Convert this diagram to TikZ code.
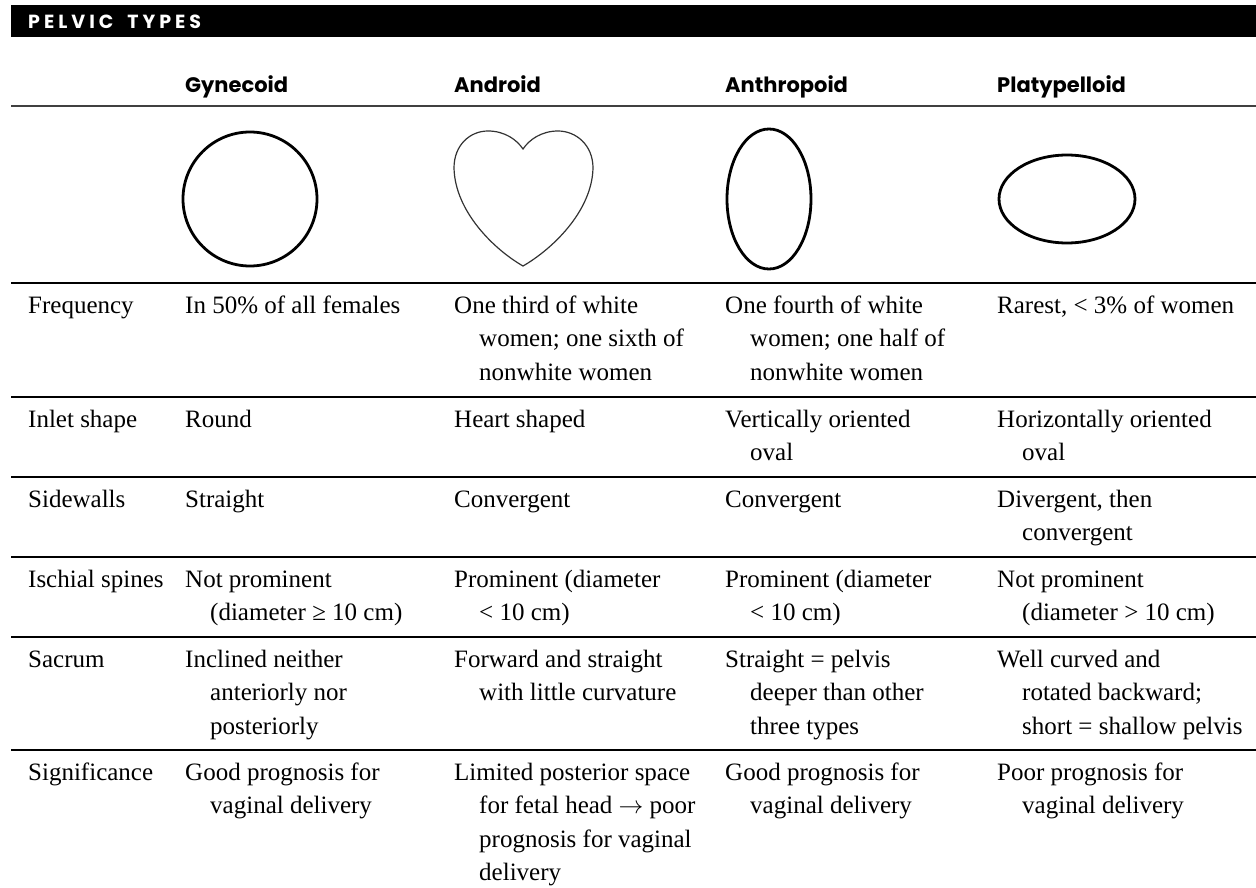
\documentclass[tikz,border=0pt]{standalone}
\usepackage{fontspec}
\setmainfont{Liberation Serif}
\newfontfamily\hdfont{Poppins}
\newcommand\st{\rule{0pt}{24bp}}
\newcommand\ind{\hspace*{25bp}}
\tikzset{
  cell/.style={anchor=north west, inner sep=0pt, align=left, text=black,
    font=\fontsize{25bp}{33.5bp}\selectfont},
  hd/.style={anchor=base west, inner sep=0pt, text=black,
    font=\hdfont\bfseries\fontsize{21bp}{25bp}\selectfont},
  rowrule/.style={line width=2bp, draw=black},
  thickshape/.style={line width=2.8bp, draw=black},
  thinshape/.style={line width=1.2bp, draw=black!80}
}
\begin{document}
\begin{tikzpicture}[x=1bp,y=-1bp]
\useasboundingbox (0,0) rectangle (1256,888);
% title bar
\fill[black] (11,5) rectangle (1256,37);
\node[anchor=base west, inner sep=0pt, text=white,
  font=\hdfont\bfseries\fontsize{19bp}{20bp}\selectfont] (title) at (28,28)
  {P\kern4bp E\kern4bp L\kern4bp V\kern4bp I\kern4bp C\kern14bp T\kern4bp Y\kern4bp P\kern4bp E\kern4bp S};
% headers
\node[hd] (h2) at (185,92) {Gynecoid};
\node[hd] (h3) at (454,92) {Android};
\node[hd] (h4) at (725,92) {Anthropoid};
\node[hd] (h5) at (997,92) {Platypelloid};
\draw[line width=2.5bp, draw=black!75] (11,106) -- (1256,106);
% shapes
\draw[thickshape] (250,199) circle [radius=67];
\draw[thinshape] (523,266) .. controls (495,250) and (455,212) .. (454,168)
  .. controls (454,145) and (470,131) .. (488,131)
  .. controls (505,131) and (517,140) .. (523,149)
  .. controls (529,140) and (541,131) .. (558,131)
  .. controls (576,131) and (593,145) .. (593,168)
  .. controls (592,212) and (551,250) .. (523,266) -- cycle;
\draw[thickshape] (769,199) ellipse [x radius=42, y radius=70];
\draw[thickshape] (1067,199) ellipse [x radius=68, y radius=44];
% rules
\foreach \yy in {283,397,477,557,637,750}
  \draw[rowrule] (11,\yy) -- (1256,\yy);
% Frequency row
\node[cell] (r1c1) at (28,289) {\st Frequency};
\node[cell] (r1c2) at (185,289) {\st In 50\% of all females};
\node[cell] (r1c3) at (454,289) {\st One third of white\\\ind women; one sixth of\\\ind nonwhite women};
\node[cell] (r1c4) at (725,289) {\st One fourth of white\\\ind women; one half of\\\ind nonwhite women};
\node[cell] (r1c5) at (997,289) {\st Rarest, < 3\% of women};
% Inlet shape
\node[cell] (r2c1) at (28,403) {\st Inlet shape};
\node[cell] (r2c2) at (185,403) {\st Round};
\node[cell] (r2c3) at (454,403) {\st Heart shaped};
\node[cell] (r2c4) at (725,403) {\st Vertically oriented\\\ind oval};
\node[cell] (r2c5) at (997,403) {\st Horizontally oriented\\\ind oval};
% Sidewalls
\node[cell] (r3c1) at (28,483) {\st Sidewalls};
\node[cell] (r3c2) at (185,483) {\st Straight};
\node[cell] (r3c3) at (454,483) {\st Convergent};
\node[cell] (r3c4) at (725,483) {\st Convergent};
\node[cell] (r3c5) at (997,483) {\st Divergent, then\\\ind convergent};
% Ischial spines
\node[cell] (r4c1) at (28,563) {\st Ischial spines};
\node[cell] (r4c2) at (185,563) {\st Not prominent\\\ind (diameter ≥ 10 cm)};
\node[cell] (r4c3) at (454,563) {\st Prominent (diameter\\\ind < 10 cm)};
\node[cell] (r4c4) at (725,563) {\st Prominent (diameter\\\ind < 10 cm)};
\node[cell] (r4c5) at (997,563) {\st Not prominent\\\ind (diameter > 10 cm)};
% Sacrum
\node[cell] (r5c1) at (28,643) {\st Sacrum};
\node[cell] (r5c2) at (185,643) {\st Inclined neither\\\ind anteriorly nor\\\ind posteriorly};
\node[cell] (r5c3) at (454,643) {\st Forward and straight\\\ind with little curvature};
\node[cell] (r5c4) at (725,643) {\st Straight = pelvis\\\ind deeper than other\\\ind three types};
\node[cell] (r5c5) at (997,643) {\st Well curved and\\\ind rotated backward;\\\ind short = shallow pelvis};
% Significance
\node[cell] (r6c1) at (28,756) {\st Significance};
\node[cell] (r6c2) at (185,756) {\st Good prognosis for\\\ind vaginal delivery};
\node[cell] (r6c3) at (454,756) {\st Limited posterior space\\\ind for fetal head \ensuremath{\rightarrow} poor\\\ind prognosis for vaginal\\\ind delivery};
\node[cell] (r6c4) at (725,756) {\st Good prognosis for\\\ind vaginal delivery};
\node[cell] (r6c5) at (997,756) {\st Poor prognosis for\\\ind vaginal delivery};
\end{tikzpicture}
\end{document}
